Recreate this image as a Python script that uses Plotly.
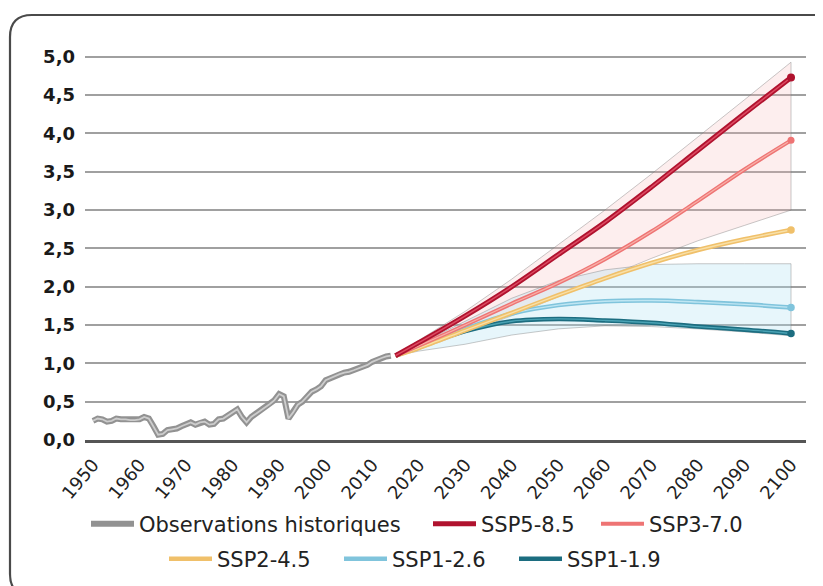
import plotly.graph_objects as go

# ---------------- data ----------------
hist_years = list(range(1950, 2015))
hist_vals = [0.25, 0.28, 0.27, 0.24, 0.25, 0.28, 0.27, 0.27, 0.26, 0.26,
             0.27, 0.30, 0.28, 0.18, 0.07, 0.08, 0.13, 0.14, 0.15, 0.18,
             0.21, 0.23, 0.20, 0.23, 0.24, 0.20, 0.21, 0.27, 0.28, 0.32,
             0.36, 0.40, 0.30, 0.23, 0.30, 0.34, 0.38, 0.42, 0.47, 0.52,
             0.60, 0.57, 0.28, 0.36, 0.46, 0.50, 0.56, 0.63, 0.66, 0.70,
             0.78, 0.81, 0.84, 0.86, 0.88, 0.89, 0.91, 0.93, 0.96, 0.98,
             1.02, 1.05, 1.07, 1.09, 1.10]

proj_years = [2015, 2020, 2030, 2040, 2050, 2060, 2070, 2080, 2090, 2100]
ssp585 = [1.10, 1.27, 1.62, 2.00, 2.42, 2.84, 3.30, 3.78, 4.26, 4.73]
ssp370 = [1.10, 1.23, 1.50, 1.78, 2.05, 2.36, 2.72, 3.12, 3.53, 3.91]
ssp245 = [1.10, 1.20, 1.43, 1.66, 1.89, 2.11, 2.31, 2.48, 2.62, 2.74]
ssp126 = [1.10, 1.21, 1.45, 1.65, 1.76, 1.81, 1.82, 1.80, 1.77, 1.73]
ssp119 = [1.10, 1.22, 1.42, 1.55, 1.58, 1.56, 1.53, 1.48, 1.44, 1.39]

high_band_upper = [1.10, 1.30, 1.68, 2.10, 2.55, 3.00, 3.47, 3.95, 4.44, 4.93]
high_band_lower = [1.10, 1.18, 1.40, 1.62, 1.86, 2.12, 2.37, 2.60, 2.80, 3.00]
low_band_upper = [1.10, 1.25, 1.55, 1.85, 2.08, 2.22, 2.29, 2.30, 2.30, 2.30]
low_band_lower = [1.10, 1.16, 1.25, 1.37, 1.45, 1.49, 1.48, 1.45, 1.41, 1.36]

x_ticks = list(range(1950, 2101, 10))
x_ticktext = [str(v) for v in x_ticks]
y_ticks = [0, 0.5, 1, 1.5, 2, 2.5, 3, 3.5, 4, 4.5, 5]
y_ticktext = ["0,0", "0,5", "1,0", "1,5", "2,0", "2,5", "3,0", "3,5", "4,0", "4,5", "5,0"]

names = ["Observations historiques", "SSP5-8.5", "SSP3-7.0", "SSP2-4.5", "SSP1-2.6", "SSP1-1.9"]

# ---------------- layout geometry (page has an 8px body margin) ----------------
OFF = 8
W, H = 823 - OFF, 586 - OFF
ML, MR, MT, MB = 85 - OFF, 17, 53 - OFF, 146
PW, PH = W - ML - MR, H - MT - MB

def px(x):
    """reference-screen pixel x -> paper fraction"""
    return (x - OFF - ML) / PW

def py(y):
    """reference-screen pixel y -> paper fraction"""
    return (H - MB - (y - OFF)) / PH

FONT = "DejaVu Sans"
TXT = "#222222"

fig = go.Figure()

def band(upper, lower, fillc):
    fig.add_trace(go.Scatter(
        x=proj_years + proj_years[::-1], y=upper + lower[::-1],
        fill="toself", fillcolor=fillc, mode="lines",
        line=dict(color="rgba(120,120,120,0.5)", width=0.8),
        hoverinfo="skip", showlegend=False))

band(high_band_upper, high_band_lower, "rgba(245,185,185,0.24)")
band(low_band_upper, low_band_lower, "rgba(175,225,242,0.30)")

def tube(x, y, name, col, hi, width, legend, end_dot=True, spline=True):
    shape = "spline" if spline else "linear"
    fig.add_trace(go.Scatter(
        x=x, y=y, name=name, mode="lines", legend=legend,
        line=dict(color=col, width=width, shape=shape)))
    fig.add_trace(go.Scatter(
        x=x, y=y, mode="lines", showlegend=False, hoverinfo="skip",
        line=dict(color=hi, width=max(width * 0.3, 1.2), shape=shape)))
    if end_dot:
        fig.add_trace(go.Scatter(
            x=[x[-1]], y=[y[-1]], mode="markers", showlegend=False,
            hoverinfo="skip", marker=dict(color=col, size=width + 3)))

tube(proj_years, ssp119, names[5], "#1c6d80", "#4aa3b5", 4.5, "legend6")
tube(proj_years, ssp126, names[4], "#80c4dc", "#bfe6f3", 4.5, "legend5")
tube(proj_years, ssp245, names[3], "#f0c06a", "#f8e0a8", 4.5, "legend4")
tube(proj_years, ssp370, names[2], "#ee7474", "#f8b0a8", 4.0, "legend3")
tube(proj_years, ssp585, names[1], "#b0122e", "#dd4a62", 5.0, "legend2")
tube(hist_years, hist_vals, names[0], "#929292", "#cdcdcd", 6.0, "legend",
     end_dot=False, spline=False)

# rounded frame (only partly inside the picture)
fl, ft, fr, fb, rad = 10, 15, 844, 596, 22
path = (f"M {px(fl)},{py(fb - rad)} L {px(fl)},{py(ft + rad)} "
        f"Q {px(fl)},{py(ft)} {px(fl + rad)},{py(ft)} "
        f"L {px(fr - rad)},{py(ft)} Q {px(fr)},{py(ft)} {px(fr)},{py(ft + rad)} "
        f"L {px(fr)},{py(fb - rad)} Q {px(fr)},{py(fb)} {px(fr - rad)},{py(fb)} "
        f"L {px(fl + rad)},{py(fb)} Q {px(fl)},{py(fb)} {px(fl)},{py(fb - rad)} Z")

# legend entries: (legend id, x, row centre y) in reference pixels
legend_pos = [("legend", 86, 524), ("legend2", 428, 524), ("legend3", 596, 524),
              ("legend4", 164, 559), ("legend5", 339, 559), ("legend6", 514, 559)]
legend_layout = {}
for lid, lx, ly in legend_pos:
    legend_layout[lid] = dict(
        orientation="h", x=px(lx), xanchor="left", y=py(ly), yanchor="middle",
        font=dict(family=FONT, size=21, color=TXT),
        bgcolor="rgba(0,0,0,0)", itemwidth=43)

fig.update_layout(
    width=W, height=H,
    margin=dict(l=ML, r=MR, t=MT, b=MB, pad=0, autoexpand=False),
    paper_bgcolor="white", plot_bgcolor="white",
    font=dict(family=FONT, color=TXT),
    shapes=[dict(type="path", xref="paper", yref="paper", path=path,
                 line=dict(color="#4a4a4a", width=2.2), layer="above")],
    xaxis=dict(range=[1948.28, 2103.22], tickvals=x_ticks, ticktext=x_ticktext,
               tickangle=-50, showgrid=False, zeroline=False,
               showline=True, linecolor="#555555", linewidth=3,
               tickfont=dict(family=FONT, size=18, color=TXT),
               ticklabelstandoff=4, fixedrange=True, automargin=False),
    yaxis=dict(range=[0, 5.05], tickvals=y_ticks, ticktext=y_ticktext,
               showgrid=True, gridcolor="#a0a0a0", gridwidth=2,
               zeroline=False, showline=False,
               tickfont=dict(family=FONT, size=18, color="#1a1a1a", weight="bold"),
               ticklabelstandoff=9, fixedrange=True, automargin=False),
    showlegend=True,
    **legend_layout,
)

fig.write_html("out.html")
